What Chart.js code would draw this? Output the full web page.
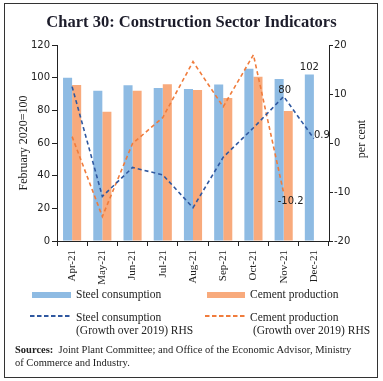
<!DOCTYPE html>
<html>
<head>
<meta charset="utf-8">
<script src="https://cdn.jsdelivr.net/npm/chart.js@4.4.1/dist/chart.umd.min.js"></script>
<style>
  html, body { margin: 0; padding: 0; background: #fff; }
  #wrap { position: relative; width: 383px; height: 381px; overflow: hidden; font-family: "Liberation Serif", serif; color: #222; }
  #frame { position: absolute; left: 4px; top: 3px; width: 372px; height: 373px; border: 1.5px solid #333; }
  #title { position: absolute; left: 0; top: 12px; width: 383px; text-align: center; font-weight: bold; font-size: 16.5px; color: #1c1c2a; }
  canvas { position: absolute; left: 0; top: 0; }
  .leg { position: absolute; font-size: 11.5px; line-height: 13px; white-space: nowrap; }
  .sw { position: absolute; }
  #sources { position: absolute; left: 15px; top: 343px; width: 346px; font-size: 10.5px; line-height: 13px; }
</style>
</head>
<body>
<div id="wrap">
  <canvas id="chart" width="383" height="381"></canvas>
  <div id="frame"></div>
  <div id="title">Chart 30: Construction Sector Indicators</div>

  <div class="sw" style="left:32px;top:292px;width:39px;height:6px;background:#8ebbe3"></div>
  <div class="leg" style="left:76px;top:288px">Steel consumption</div>
  <div class="sw" style="left:207px;top:292px;width:38px;height:6px;background:#f8aa7c"></div>
  <div class="leg" style="left:250px;top:288px">Cement production</div>

  <svg class="sw" style="left:30px;top:313px" width="40" height="6"><line x1="0" y1="3" x2="40" y2="3" stroke="#2f58a0" stroke-width="1.8" stroke-dasharray="4.5,2.5"/></svg>
  <div class="leg" style="left:76px;top:311px">Steel consumption<br>(Growth over 2019) RHS</div>
  <svg class="sw" style="left:205px;top:313px" width="40" height="6"><line x1="0" y1="3" x2="40" y2="3" stroke="#f07c3c" stroke-width="1.8" stroke-dasharray="4.5,2.5"/></svg>
  <div class="leg" style="left:250px;top:311px">Cement production<br>&nbsp;(Growth over 2019) RHS</div>

  <div id="sources"><b>Sources:</b>&nbsp; Joint Plant Committee; and Office of the Economic Advisor, Ministry of Commerce and Industry.</div>
</div>
<script>
// ---------- Data ----------
const months = ["Apr-21", "May-21", "Jun-21", "Jul-21", "Aug-21", "Sep-21", "Oct-21", "Nov-21", "Dec-21"];
const steelIndex = [100, 92, 95.3, 93.7, 93, 95.8, 105.5, 99.2, 102];
const cementIndex = [95.5, 79.2, 92, 96, 92.5, 87.6, 100.6, 79.6, null];
const steelGrowth = [11.5, -10.9, -5.0, -6.5, -13.2, -2.9, 3.1, 9.5, 0.9];
const cementGrowth = [1.3, -15.0, -0.1, 5.2, 16.6, 7.4, 18.0, -10.2, null];
const leftTicks = [0, 20, 40, 60, 80, 100, 120];
const rightTicks = [-20, -10, 0, 10, 20];

// labels printed next to some points: [dataset index, point index, text, dx, dy, align]
const pointLabels = [
  [2, 8, "102", 0, -4, "center"],
  [0, 7, "80", 1, -3, "center"],
  [0, 8, "0.9", 0, -1, "left"],
  [1, 7, "-10.2", -6, 11, "left"]
];

const tickFont = { family: "DejaVu Sans", size: 10 };
const serifFont = { family: "Liberation Serif", size: 12 };

// draws the small value labels and the right axis title
const extrasPlugin = {
  id: "extras",
  afterDatasetsDraw(chart) {
    const ctx = chart.ctx;
    ctx.save();
    ctx.fillStyle = "#222";
    ctx.font = "10px 'DejaVu Sans'";
    ctx.textBaseline = "alphabetic";
    pointLabels.forEach(([ds, i, text, dx, dy, align]) => {
      const el = chart.getDatasetMeta(ds).data[i];
      if (!el) return;
      ctx.textAlign = align;
      ctx.fillText(text, el.x + dx, el.y + dy);
    });
    // right axis title, reads bottom to top
    const y1 = chart.scales.y1;
    ctx.font = "12px 'Liberation Serif'";
    ctx.textAlign = "center";
    ctx.textBaseline = "middle";
    ctx.translate(362, (y1.top + y1.bottom) / 2 - 4);
    ctx.rotate(-Math.PI / 2);
    ctx.fillText("per cent", 0, 0);
    ctx.restore();
  }
};

new Chart(document.getElementById("chart"), {
  data: {
    labels: months,
    datasets: [
      { type: "line", label: "Steel consumption (Growth over 2019) RHS", data: steelGrowth, yAxisID: "y1",
        borderColor: "#2f58a0", borderWidth: 1.6, borderDash: [4, 3], pointRadius: 0, fill: false, tension: 0, order: 0 },
      { type: "line", label: "Cement production (Growth over 2019) RHS", data: cementGrowth, yAxisID: "y1",
        borderColor: "#f07c3c", borderWidth: 1.6, borderDash: [4, 3], pointRadius: 0, fill: false, tension: 0, order: 0 },
      { type: "bar", label: "Steel consumption", data: steelIndex, yAxisID: "y",
        backgroundColor: "#8ebbe3", categoryPercentage: 0.6, barPercentage: 1, order: 1 },
      { type: "bar", label: "Cement production", data: cementIndex, yAxisID: "y",
        backgroundColor: "#f8aa7c", categoryPercentage: 0.6, barPercentage: 1, order: 1 }
    ]
  },
  options: {
    responsive: false,
    animation: false,
    layout: { padding: { top: 45, bottom: 85, left: 0, right: 0 } },
    plugins: { legend: { display: false }, tooltip: { enabled: false } },
    scales: {
      x: {
        offset: true,
        grid: { offset: true, drawOnChartArea: false, tickLength: 5, color: "#222" },
        border: { color: "#222", width: 1 },
        ticks: { maxRotation: 90, minRotation: 90, padding: 4, color: "#222", font: { family: "Liberation Serif", size: 11 } },
        afterFit(s) { s.height = 55; }
      },
      y: {
        position: "left",
        min: 0, max: 120,
        afterBuildTicks(s) { s.ticks = leftTicks.map(v => ({ value: v })); },
        grid: { drawOnChartArea: false, tickLength: 5, color: "#222" },
        border: { color: "#222", width: 1 },
        ticks: { padding: 2, color: "#222", font: tickFont },
        title: { display: true, text: "February 2020=100", color: "#222", font: serifFont, padding: { top: 17, bottom: 0 } },
        afterFit(s) { s.width = 57; }
      },
      y1: {
        position: "right",
        min: -20, max: 20,
        afterBuildTicks(s) { s.ticks = rightTicks.map(v => ({ value: v })); },
        grid: { drawOnChartArea: false, tickLength: 4, color: "#222" },
        border: { color: "#222", width: 1 },
        ticks: { padding: 1, color: "#222", font: tickFont },
        afterFit(s) { s.width = 54; }
      }
    }
  },
  plugins: [extrasPlugin]
});
</script>
</body>
</html>
